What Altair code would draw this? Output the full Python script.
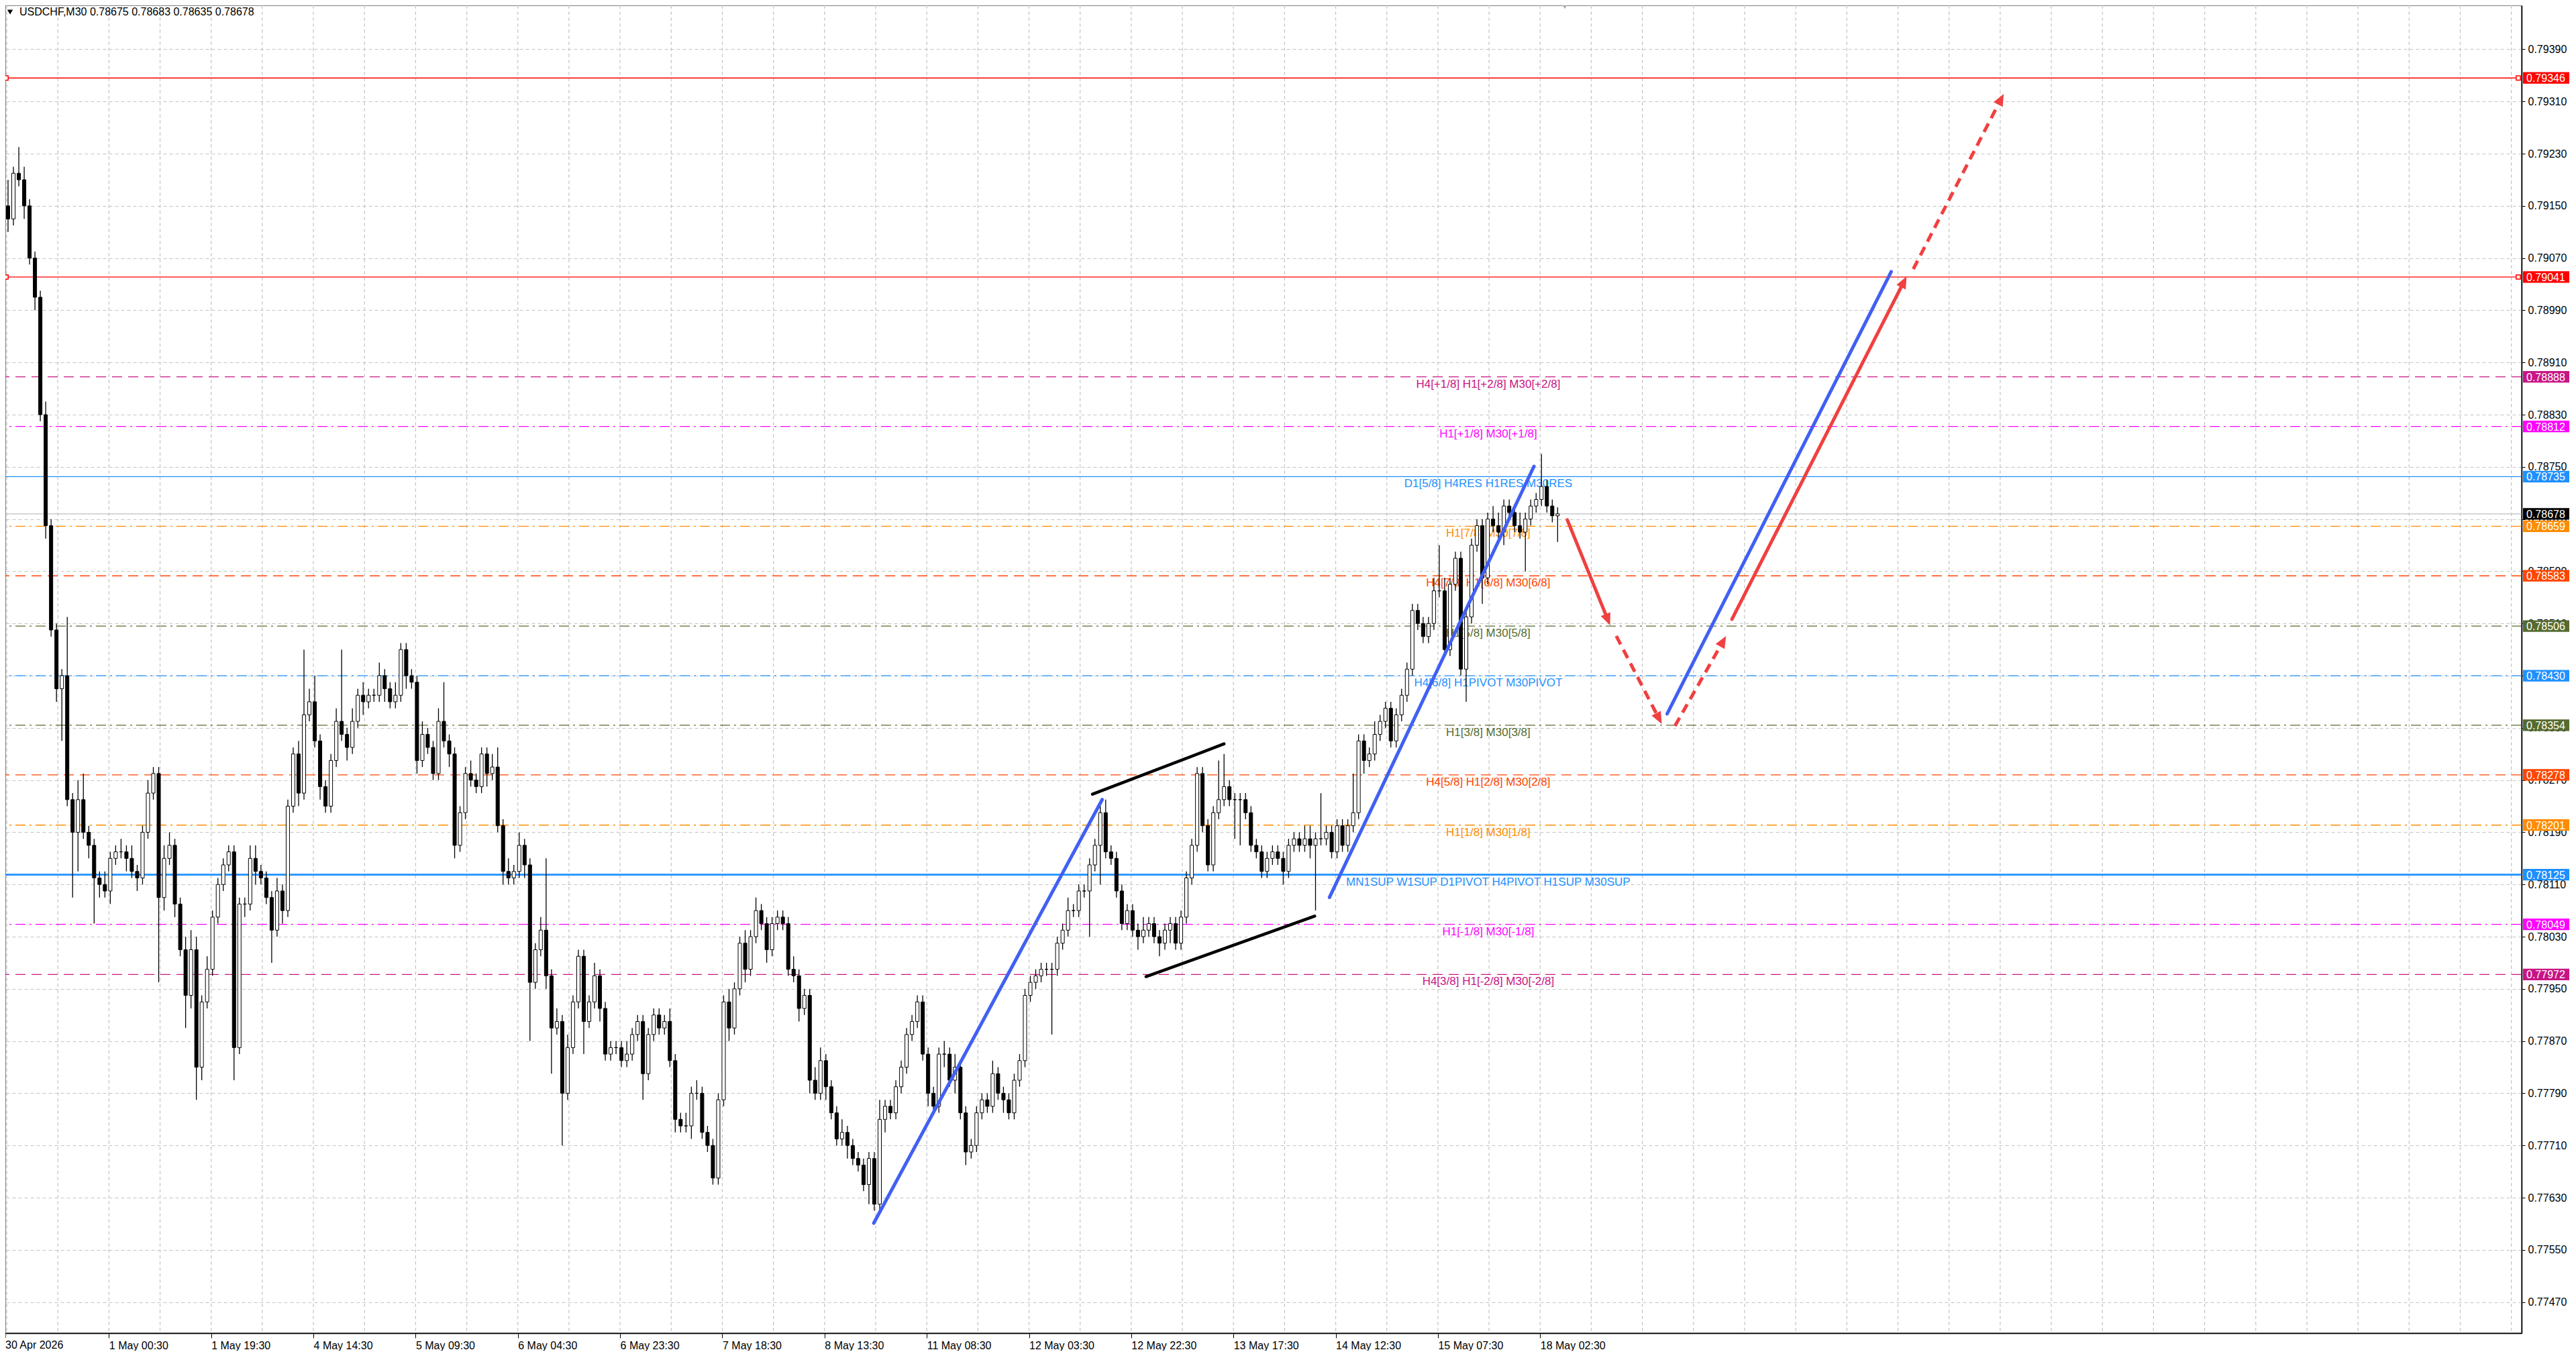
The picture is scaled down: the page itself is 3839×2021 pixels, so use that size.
import math
import altair as alt
import pandas as pd

# ---------------- values ----------------
TITLE_TEXT = "USDCHF,M30  0.78675 0.78683 0.78635 0.78678"

# hourly candles (each = two M30 bars), prices in pips (price * 10000)
FIRST_OPEN = 7915
CLOSE = [
    7913, 7920, 7919, 7915, 7907, 7901, 7883, 7866, 7850, 7841,
    7843, 7824, 7819, 7824, 7819, 7817, 7812, 7811, 7810, 7815,
    7816, 7816, 7815, 7813, 7812, 7819, 7825, 7828, 7809, 7815,
    7817, 7808, 7801, 7794, 7801, 7783, 7793, 7798, 7806, 7811,
    7814, 7816, 7786, 7808, 7808, 7815, 7813, 7812, 7809, 7804,
    7810, 7807, 7823, 7831, 7825, 7837, 7839, 7833, 7826, 7823,
    7830, 7836, 7834, 7832, 7836, 7840, 7839, 7840, 7840, 7843,
    7841, 7839, 7840, 7847, 7843, 7842, 7830, 7834, 7832, 7828,
    7836, 7833, 7831, 7817, 7822, 7828, 7827, 7826, 7831, 7828,
    7829, 7820, 7813, 7812, 7813, 7817, 7814, 7796, 7801, 7804,
    7797, 7789, 7790, 7779, 7786, 7793, 7800, 7790, 7793, 7797,
    7792, 7785, 7786, 7786, 7784, 7785, 7788, 7790, 7782, 7788,
    7791, 7789, 7790, 7784, 7775, 7774, 7774, 7779, 7779, 7773,
    7771, 7766, 7778, 7793, 7789, 7795, 7802, 7798, 7803, 7807,
    7805, 7801, 7805, 7806, 7805, 7798, 7797, 7792, 7794, 7781,
    7779, 7784, 7780, 7776, 7772, 7773, 7771, 7769, 7768, 7765,
    7769, 7762, 7775, 7777, 7776, 7780, 7783, 7788, 7790, 7793,
    7785, 7779, 7777, 7785, 7785, 7781, 7783, 7776, 7770, 7771,
    7776, 7778, 7777, 7782, 7779, 7778, 7776, 7781, 7784, 7794,
    7796, 7797, 7798, 7798, 7798, 7802, 7804, 7807, 7807, 7810,
    7810, 7814, 7817, 7822, 7816, 7815, 7810, 7805, 7807, 7804,
    7803, 7804, 7805, 7803, 7802, 7804, 7805, 7802, 7806, 7812,
    7817, 7828, 7820, 7814, 7822, 7824, 7826, 7824, 7824, 7824,
    7822, 7817, 7816, 7813, 7815, 7816, 7815, 7813, 7817, 7818,
    7817, 7818, 7817, 7818, 7818, 7819, 7816, 7820, 7817, 7820,
    7822, 7833, 7830, 7831, 7834, 7836, 7838, 7833, 7837, 7840,
    7844, 7853, 7851, 7849, 7851, 7856, 7856, 7847, 7857, 7861,
    7844, 7852, 7863, 7866, 7858, 7867, 7866, 7865, 7869, 7868,
    7866, 7865, 7867, 7869, 7870, 7872, 7869, 7867.5, 7867.8,
]
UPPER_WICK = [
    4, 1, 4, 2, 1, 1, 1, 2, 1, 1,
    1, 9, 1, 3, 4, 1, 1, 1, 2, 1,
    1, 2, 1, 2, 1, 1, 2, 1, 1, 2,
    2, 1, 1, 2, 3, 2, 1, 2, 1, 1,
    1, 1, 1, 1, 1, 2, 2, 1, 1, 1,
    2, 1, 1, 1, 2, 10, 2, 4, 1, 1,
    1, 2, 11, 1, 2, 1, 2, 1, 1, 2,
    1, 1, 2, 1, 1, 1, 1, 2, 1, 1,
    2, 6, 1, 1, 1, 1, 2, 1, 1, 1,
    2, 3, 1, 2, 1, 2, 1, 1, 1, 2,
    11, 1, 2, 1, 2, 1, 1, 1, 1, 2,
    1, 1, 1, 1, 1, 2, 1, 1, 1, 1,
    1, 1, 1, 2, 1, 1, 2, 1, 2, 1,
    1, 1, 1, 1, 2, 1, 1, 2, 1, 2,
    1, 1, 1, 1, 1, 1, 2, 1, 1, 1,
    2, 2, 1, 1, 1, 2, 1, 1, 1, 1,
    1, 1, 3, 1, 1, 1, 1, 1, 1, 1,
    1, 1, 1, 1, 2, 1, 2, 1, 1, 1,
    1, 1, 1, 2, 1, 1, 1, 1, 1, 1,
    1, 1, 1, 1, 1, 1, 1, 2, 1, 1,
    1, 1, 1, 1, 2, 1, 1, 1, 1, 1,
    1, 2, 1, 1, 1, 1, 1, 1, 1, 1,
    1, 1, 1, 1, 1, 6, 5, 1, 1, 1,
    1, 1, 1, 1, 1, 1, 1, 1, 1, 1,
    1, 2, 2, 1, 7, 1, 1, 1, 1, 1,
    6, 1, 1, 1, 2, 1, 1, 1, 1, 1,
    1, 1, 1, 1, 1, 2, 7, 2, 1, 1,
    1, 1, 1, 1, 1, 1, 2, 2, 1, 1,
    1, 2, 1, 1, 1, 5, 1, 1, 1,
]
LOWER_WICK = [
    2, 1, 1, 2, 1, 2, 1, 2, 1, 2,
    8, 1, 10, 6, 1, 2, 7, 2, 1, 2,
    1, 1, 2, 1, 2, 1, 1, 1, 13, 2,
    1, 2, 1, 5, 2, 5, 2, 1, 1, 1,
    1, 1, 5, 1, 2, 1, 2, 1, 1, 5,
    1, 2, 1, 1, 2, 1, 1, 1, 2, 1,
    1, 1, 1, 2, 1, 1, 2, 1, 1, 1,
    2, 1, 1, 1, 2, 1, 2, 1, 1, 1,
    1, 1, 2, 2, 1, 1, 1, 1, 1, 2,
    1, 1, 2, 1, 1, 1, 2, 9, 1, 1,
    2, 7, 1, 8, 1, 1, 1, 5, 1, 1,
    2, 1, 1, 1, 1, 1, 1, 1, 4, 1,
    1, 1, 1, 1, 2, 1, 1, 2, 1, 1,
    1, 1, 1, 1, 2, 1, 1, 2, 1, 1,
    1, 2, 1, 1, 1, 1, 1, 2, 1, 2,
    1, 1, 2, 1, 1, 1, 2, 1, 1, 1,
    3, 1, 1, 2, 1, 1, 1, 1, 1, 1,
    1, 2, 1, 1, 2, 1, 2, 1, 2, 1,
    1, 1, 1, 1, 1, 2, 1, 1, 1, 1,
    1, 1, 1, 1, 10, 1, 1, 1, 1, 1,
    1, 7, 1, 6, 1, 1, 1, 1, 1, 1,
    2, 1, 1, 1, 2, 1, 2, 1, 1, 1,
    1, 1, 1, 1, 1, 1, 1, 1, 6, 7,
    1, 1, 1, 1, 1, 1, 1, 2, 1, 1,
    1, 1, 2, 10, 1, 1, 1, 1, 1, 1,
    1, 1, 2, 1, 1, 1, 1, 1, 1, 1,
    1, 1, 1, 1, 1, 1, 1, 1, 1, 1,
    1, 5, 1, 1, 4, 1, 1, 1, 2, 1,
    1, 1, 6, 1, 1, 1, 1, 1, 4,
]

X_LABELS = ["30 Apr 2026", "1 May 00:30", "1 May 19:30", "4 May 14:30", "5 May 09:30",
            "6 May 04:30", "6 May 23:30", "7 May 18:30", "8 May 13:30", "11 May 08:30",
            "12 May 03:30", "12 May 22:30", "13 May 17:30", "14 May 12:30", "15 May 07:30",
            "18 May 02:30"]
BARS_PER_LABEL = 38   # M30 bars between two time labels

Y_TICKS = [0.79390, 0.79310, 0.79230, 0.79150, 0.79070, 0.78990, 0.78910, 0.78830,
           0.78750, 0.78670, 0.78590, 0.78510, 0.78430, 0.78350, 0.78270, 0.78190,
           0.78110, 0.78030, 0.77950, 0.77870, 0.77790, 0.77710, 0.77630, 0.77550,
           0.77470]

LEVEL_PRICE = [0.79346, 0.79041, 0.78888, 0.78812, 0.78735, 0.78678, 0.78659, 0.78583,
               0.78506, 0.78430, 0.78354, 0.78278, 0.78201, 0.78125, 0.78049, 0.77972]
LEVEL_TEXT = ["", "", "H4[+1/8] H1[+2/8] M30[+2/8]", "H1[+1/8] M30[+1/8]",
              "D1[5/8] H4RES H1RES M30RES", "", "H1[7/8] M30[7/8]",
              "H4[7/8] H1[6/8] M30[6/8]", "H1[5/8] M30[5/8]", "H4[6/8] H1PIVOT M30PIVOT",
              "H1[3/8] M30[3/8]", "H4[5/8] H1[2/8] M30[2/8]", "H1[1/8] M30[1/8]",
              "MN1SUP W1SUP D1PIVOT H4PIVOT H1SUP M30SUP", "H1[-1/8] M30[-1/8]",
              "H4[3/8] H1[-2/8] M30[-2/8]"]
LEVEL_STYLE = ["solid", "solid", "dash", "dashdot", "solid", "solid", "dashdot", "dash",
               "dashdot", "dashdot", "dashdot", "dash", "dashdot", "solid", "dashdot", "dash"]
LEVEL_LINE_COLOR = ["#FF0000", "#FF0000", "#C71585", "#FF00FF", "#1E90FF", "#C0C0C0",
                    "#FF8C00", "#FF4500", "#556B2F", "#1E90FF", "#556B2F", "#FF4500",
                    "#FF8C00", "#1E90FF", "#FF00FF", "#C71585"]
LEVEL_TAG_COLOR = ["#FF0000", "#FF0000", "#C71585", "#FF00FF", "#1E90FF", "#000000",
                   "#FF8C00", "#FF4500", "#556B2F", "#1E90FF", "#556B2F", "#FF4500",
                   "#FF8C00", "#1E90FF", "#FF00FF", "#C71585"]
RED_END_LINES = [0.79346, 0.79041]

# hand-drawn objects: (bar start, price start, bar end, price end)
BLUE_TRENDS = [(322.3, 0.775910, 407.2, 0.782401),
               (491.7, 0.780903, 567.7, 0.787508),
               (617.2, 0.783715, 700.5, 0.790491)]
BLACK_CHANNEL = [(403.6, 0.782484, 452.5, 0.783255),
                 (423.5, 0.779688, 486.2, 0.780615)]
RED_ARROWS = [(580.1, 0.786687, 596.0, 0.785072, "solid"),
              (598.3, 0.784908, 615.2, 0.783561, "dash"),
              (620.1, 0.783530, 639.1, 0.784908, "dash"),
              (641.3, 0.785165, 706.2, 0.790419, "solid"),
              (708.7, 0.790532, 742.3, 0.793216, "dash")]

# ---------------- layout / style ----------------
W, H = 3750, 1979
X_DOMAIN = [0.75, 0.75 + W / 4.02]
Y_DOMAIN = [0.774223, 0.794573]
FONT = "Liberation Sans"
LABEL_BAR = 550.7
RED = "#F04040"
BLUE = "#4160F2"
GRID = "#C4C4C4"

xs = alt.Scale(domain=X_DOMAIN, nice=False, zero=False)
ys = alt.Scale(domain=Y_DOMAIN, nice=False, zero=False)

x_label_expr = "['" + "','".join(X_LABELS) + "'][round(datum.value / %d)]" % BARS_PER_LABEL
X_AX = alt.Axis(values=[BARS_PER_LABEL * i for i in range(1, len(X_LABELS))],
                labelExpr=x_label_expr, title=None, grid=False, orient="bottom",
                labelAlign="left", labelOffset=0, labelPadding=3, labelFont=FONT,
                labelFontSize=16, labelColor="black", tickColor="black", tickSize=7,
                domainColor="black", domainWidth=1.5, labelFlush=False, labelOverlap=False)
Y_AX = alt.Axis(values=Y_TICKS, format=".5f", title=None, orient="right", grid=True,
                gridColor=GRID, gridDash=[5, 4], gridWidth=1.2, labelFont=FONT,
                labelFontSize=16, labelColor="black", tickColor="black", tickSize=5,
                labelPadding=4, domainColor="black", domainWidth=1.5, labelOverlap=False)


def X(field):
    return alt.X(field, type="quantitative", scale=xs, axis=X_AX)


def Y(field):
    return alt.Y(field, type="quantitative", scale=ys, axis=Y_AX)


# ---------------- tables ----------------
opens = [FIRST_OPEN] + CLOSE[:-1]
candles = pd.DataFrame({
    "x": [2 * k + 0.5 for k in range(len(CLOSE))],
    "o": [v / 1e4 for v in opens],
    "c": [v / 1e4 for v in CLOSE],
    "h": [(max(o, c) + u) / 1e4 for o, c, u in zip(opens, CLOSE, UPPER_WICK)],
    "l": [(min(o, c) - d) / 1e4 for o, c, d in zip(opens, CLOSE, LOWER_WICK)],
    "fill": ["white" if c >= o else "black" for o, c in zip(opens, CLOSE)],
})

levels = pd.DataFrame({
    "p": LEVEL_PRICE, "t": LEVEL_TEXT, "style": LEVEL_STYLE,
    "lc": LEVEL_LINE_COLOR, "tc": LEVEL_TAG_COLOR,
    "lw": [2.6 if (s == "solid" and c == "#1E90FF" and p < 0.782) else 1.3
           for s, c, p in zip(LEVEL_STYLE, LEVEL_LINE_COLOR, LEVEL_PRICE)],
})
level_texts = levels[levels["t"] != ""]

grid_x = pd.DataFrame({"g": list(range(0, int(X_DOMAIN[1]), BARS_PER_LABEL // 2))})
first_label = pd.DataFrame({"g": [0], "t": [X_LABELS[0]]})

seg_rows = []
for (a, b, c, d) in BLUE_TRENDS:
    seg_rows.append(dict(x1=a, y1=b, x2=c, y2=d, col=BLUE, w=5))
for (a, b, c, d) in BLACK_CHANNEL:
    seg_rows.append(dict(x1=a, y1=b, x2=c, y2=d, col="black", w=4.5))

PX_PER_BAR = W / (X_DOMAIN[1] - X_DOMAIN[0])
PX_PER_PRICE = H / (Y_DOMAIN[1] - Y_DOMAIN[0])
HEAD_LEN = 18.0
dash_rows, heads = [], []
for (a, b, c, d, style) in RED_ARROWS:
    dxp = (c - a) * PX_PER_BAR
    dyp = -(d - b) * PX_PER_PRICE
    ln = math.hypot(dxp, dyp)
    ux, uy = dxp / ln, dyp / ln
    ang = math.degrees(math.atan2(ux, -uy)) % 360
    back = HEAD_LEN * 0.65
    xe = c - ux * back / PX_PER_BAR
    ye = d + uy * back / PX_PER_PRICE
    row = dict(x1=a, y1=b, x2=xe, y2=ye, col=RED, w=5)
    if style == "solid":
        seg_rows.append(row)
    else:
        dash_rows.append(row)
    heads.append(dict(x=c, y=d, ang=ang))
segs = pd.DataFrame(seg_rows)
dsegs = pd.DataFrame(dash_rows)
heads = pd.DataFrame(heads)

# ---------------- layers ----------------
vgrid = alt.Chart(grid_x).mark_rule(color=GRID, strokeDash=[5, 4], strokeWidth=1.2).encode(
    x=X("g"))

# first time label (its tick sits on the left border of the chart)
first_tick = alt.Chart(first_label).mark_rule(color="black", strokeWidth=1.3).encode(
    x=alt.value(0), y=alt.value(H), y2=alt.value(H + 7))
first_text = alt.Chart(first_label).mark_text(
    font=FONT, fontSize=16, align="left", baseline="top", color="black").encode(
    x=alt.value(0), y=alt.value(H + 10), text="t:N")

level_lines = alt.Chart(levels).mark_rule().encode(
    y=Y("p"),
    color=alt.Color("lc:N", scale=None),
    strokeWidth=alt.StrokeWidth("lw:Q", scale=None),
    strokeDash=alt.StrokeDash("style:N", legend=None, scale=alt.Scale(
        domain=["solid", "dash", "dashdot"], range=[[1, 0], [15, 9], [15, 6, 3, 6]])),
)

level_labels = alt.Chart(level_texts).mark_text(
    font=FONT, fontSize=17, baseline="middle", align="center", dy=11).encode(
    x=alt.X(datum=LABEL_BAR, scale=xs, axis=X_AX),
    y=Y("p"),
    text="t:N",
    color=alt.Color("lc:N", scale=None),
)

ends_df = pd.DataFrame({"p": RED_END_LINES})
end_left = alt.Chart(ends_df).mark_point(shape="square", size=40, filled=False, color="#FF0000",
                                         fill="white", strokeWidth=1.5, opacity=1).encode(
    x=alt.value(1), y=Y("p"))
end_right = alt.Chart(ends_df).mark_point(shape="square", size=40, filled=False, color="#FF0000",
                                          fill="white", strokeWidth=1.5, opacity=1).encode(
    x=alt.value(W - 5), y=Y("p"))

wicks = alt.Chart(candles).mark_rule(color="black", strokeWidth=1.3).encode(
    x=X("x"), y=Y("l"), y2="h")
bodies = alt.Chart(candles).mark_bar(width=5, stroke="black", strokeWidth=1).encode(
    x=X("x"), y=Y("o"), y2="c", fill=alt.Fill("fill:N", scale=None))

solid_segs = alt.Chart(segs).mark_rule(strokeCap="round").encode(
    x=X("x1"), y=Y("y1"), x2="x2", y2="y2",
    color=alt.Color("col:N", scale=None), strokeWidth=alt.StrokeWidth("w:Q", scale=None))
dashed_segs = alt.Chart(dsegs).mark_rule(strokeCap="butt", strokeDash=[14, 9]).encode(
    x=X("x1"), y=Y("y1"), x2="x2", y2="y2",
    color=alt.Color("col:N", scale=None), strokeWidth=alt.StrokeWidth("w:Q", scale=None))
arrow_heads = alt.Chart(heads).mark_point(
    shape="M0,0L0.9,2.1L-0.9,2.1Z", size=290, filled=True, color=RED, opacity=1,
    strokeWidth=0).encode(
    x=X("x"), y=Y("y"), angle=alt.Angle("ang:Q", scale=None))

tags = alt.Chart(levels).mark_point(
    shape="M-1,-0.25H1V0.25H-1Z", size=4761, filled=True, opacity=1, strokeWidth=0).encode(
    x=alt.value(W + 36.5), y=Y("p"), color=alt.Color("tc:N", scale=None))
tag_text = alt.Chart(levels).mark_text(
    font=FONT, fontSize=16, align="left", baseline="middle", color="white", dy=1).encode(
    x=alt.value(W + 7), y=Y("p"), text=alt.Text("p:Q", format=".5f"))

title_df = pd.DataFrame({"t": [TITLE_TEXT]})
title = alt.Chart(title_df).mark_text(
    font=FONT, fontSize=16, align="left", baseline="middle", color="black").encode(
    x=alt.value(21), y=alt.value(10), text="t:N")
title_tri = alt.Chart(title_df).mark_point(
    shape="triangle-down", size=70, filled=True, color="black", opacity=1).encode(
    x=alt.value(7), y=alt.value(10))
shift_mark = alt.Chart(title_df).mark_point(
    shape="triangle-down", size=60, filled=True, color="#A8A8A8", opacity=1).encode(
    x=alt.value(2324), y=alt.value(2))

chart = alt.layer(
    vgrid, first_tick, first_text, level_lines, level_labels, end_left, end_right, wicks,
    bodies, solid_segs, dashed_segs, arrow_heads, tags, tag_text, title, title_tri, shift_mark,
).properties(
    width=W, height=H,
    padding={"left": 0, "top": 0, "right": 72, "bottom": 26},
    autosize=alt.AutoSizeParams(type="none"),
    background="white",
).configure_view(stroke="#555555", strokeWidth=1.5)

chart.save("out.html", embed_options={"renderer": "svg", "actions": False})
